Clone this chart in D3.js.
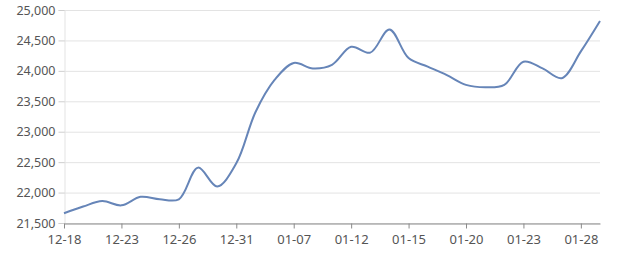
<!DOCTYPE html>
<html>
<head>
<meta charset="utf-8">
<script src="https://cdn.jsdelivr.net/npm/d3@7"></script>
<style>
  body { margin: 0; background: #fff; }
  text { font-family: "Noto Sans", "Noto Sans CJK SC", sans-serif; }
</style>
</head>
<body>
<div id="container"></div>
<script>
// 每个交易日一个点，每3个点标一次日期
let dates = ['12-18', '12-19', '12-20', '12-23', '12-24', '12-25', '12-26', '12-27', '12-30',
  '12-31', '01-02', '01-03', '01-07', '01-08', '01-09', '01-12', '01-13', '01-14',
  '01-15', '01-16', '01-17', '01-20', '01-21', '01-22', '01-23', '01-24', '01-27',
  '01-28', '01-29']
let prices = [21660, 21770, 21860, 21790, 21930, 21890, 21890, 22410, 22100,
  22480, 23320, 23850, 24130, 24040, 24100, 24395, 24300, 24680,
  24210, 24070, 23930, 23770, 23730, 23770, 24150, 24040, 23880,
  24320, 24820]
let yTicks = [21500, 22000, 22500, 23000, 23500, 24000, 24500, 25000]

let width = 640,
  height = 270,
  padding = { top: 10, left: 64, bottom: 47, right: 40 }

let svg = d3.select('#container')
  .append('svg')
  .attr('width', width)
  .attr('height', height)

let scale_x = d3.scalePoint()
  .domain(dates)
  .range([padding.left, width - padding.right])

let scale_y = d3.scaleLinear()
  .domain([21500, 25000])
  .range([height - padding.bottom, padding.top])

// 网格线
svg.append('g')
  .selectAll('line')
  .data(yTicks).enter().append('line')
  .attr('x1', padding.left)
  .attr('x2', width - padding.right)
  .attr('y1', d => scale_y(d) + 0.5)
  .attr('y2', d => scale_y(d) + 0.5)
  .attr('stroke', '#e3e3e3')

// y轴
let y_axis = d3.axisLeft(scale_y)
  .tickValues(yTicks)
  .tickFormat(d3.format(','))
  .tickSize(6)
  .tickPadding(3)
let gy = svg.append('g')
  .attr('transform', 'translate(' + (padding.left + 0.5) + ',0)')
  .call(y_axis)
gy.select('.domain').attr('stroke', '#e3e3e3')
gy.selectAll('.tick line').attr('stroke', '#cfcfcf')
gy.selectAll('text').attr('fill', '#555').attr('font-size', 12.5)

// x轴
let x_axis = d3.axisBottom(scale_x)
  .tickValues(dates.filter((d, i) => i % 3 === 0))
  .tickSize(5)
  .tickSizeOuter(0)
  .tickPadding(6)
let gx = svg.append('g')
  .attr('transform', 'translate(0,' + (height - padding.bottom + 0.5) + ')')
  .call(x_axis)
gx.select('.domain').attr('stroke', '#8a8a8a')
gx.selectAll('.tick line').attr('stroke', '#8a8a8a')
gx.selectAll('text').attr('fill', '#555').attr('font-size', 13)

// 平滑折线
let line_generator = d3.line()
  .x((d, i) => scale_x(dates[i]))
  .y(d => scale_y(d))
  .curve(d3.curveCatmullRom.alpha(0.5))

svg.append('path')
  .attr('d', line_generator(prices))
  .attr('fill', 'none')
  .attr('stroke', '#6685b8')
  .attr('stroke-width', 2)
</script>
</body>
</html>
